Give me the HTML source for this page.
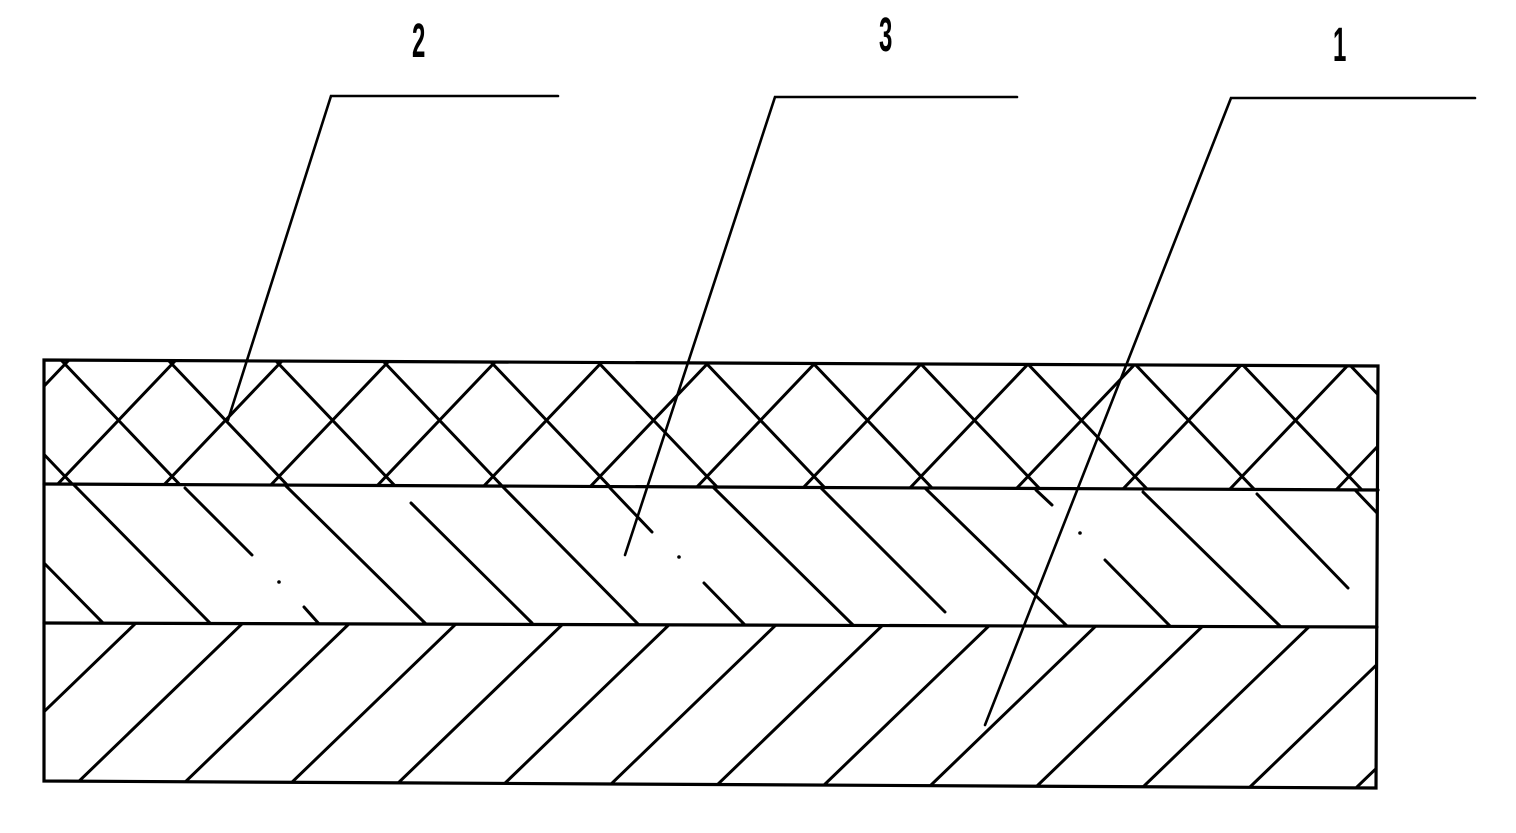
<!DOCTYPE html>
<html><head><meta charset="utf-8"><style>html,body{margin:0;padding:0;background:#fff}svg{display:block}</style></head>
<body>
<svg width="1516" height="833" viewBox="0 0 1516 833" xmlns="http://www.w3.org/2000/svg">
<defs>
<clipPath id="c1"><polygon points="44,360 1378,366 1378,490 44,484"/></clipPath>
<clipPath id="c2"><polygon points="44,484 1378,490 1377,627 44,623"/></clipPath>
<clipPath id="c3"><polygon points="44,623 1377,627 1376,788 44,781"/></clipPath>
<g id="bs"><line x1="-23" y1="340" x2="139" y2="510"/></g>
<g id="fs"><line x1="23" y1="340" x2="-139" y2="510"/></g>
<g id="bl"><line x1="0" y1="787" x2="172" y2="621"/></g>
</defs>
<g stroke="#000" stroke-width="3" fill="none" stroke-linecap="round">
<g clip-path="url(#c1)">
<g transform="translate(65,0)">
<use href="#bs" x="-214"/><use href="#bs" x="-107"/><use href="#bs" x="0"/><use href="#bs" x="107"/><use href="#bs" x="214"/><use href="#bs" x="321"/><use href="#bs" x="428"/><use href="#bs" x="535"/><use href="#bs" x="642"/><use href="#bs" x="749"/><use href="#bs" x="856"/><use href="#bs" x="963"/><use href="#bs" x="1070"/><use href="#bs" x="1177"/><use href="#bs" x="1284"/><use href="#bs" x="1391"/>
<use href="#fs" x="-107"/><use href="#fs" x="0"/><use href="#fs" x="107"/><use href="#fs" x="214"/><use href="#fs" x="321"/><use href="#fs" x="428"/><use href="#fs" x="535"/><use href="#fs" x="642"/><use href="#fs" x="749"/><use href="#fs" x="856"/><use href="#fs" x="963"/><use href="#fs" x="1070"/><use href="#fs" x="1177"/><use href="#fs" x="1284"/><use href="#fs" x="1391"/><use href="#fs" x="1498"/>
</g>
</g>
<g clip-path="url(#c2)">
<line x1="43" y1="562" x2="105" y2="625"/>
<line x1="73" y1="484" x2="212" y2="625"/>
<line x1="185" y1="488" x2="252" y2="555"/>
<line x1="304" y1="607" x2="320" y2="625"/>
<line x1="286" y1="486" x2="427" y2="625"/>
<line x1="411" y1="503" x2="532" y2="623"/>
<line x1="503" y1="487" x2="639" y2="625"/>
<line x1="610" y1="488" x2="652" y2="532"/>
<line x1="704" y1="583" x2="745" y2="625"/>
<line x1="713" y1="487" x2="853" y2="625"/>
<line x1="820" y1="487" x2="945" y2="612"/>
<line x1="925" y1="488" x2="1067" y2="626"/>
<line x1="1036" y1="490" x2="1052" y2="505"/>
<line x1="1105" y1="560" x2="1172" y2="628"/>
<line x1="1143" y1="492" x2="1282" y2="628"/>
<line x1="1257" y1="494" x2="1348" y2="588"/>
<line x1="1355" y1="490" x2="1378" y2="514"/>
</g>
<circle cx="279" cy="582" r="1.8" fill="#000" stroke="none"/>
<circle cx="679" cy="557" r="1.8" fill="#000" stroke="none"/>
<circle cx="1080" cy="533" r="1.8" fill="#000" stroke="none"/>
<g clip-path="url(#c3)">
<use href="#bl" x="-141"/><use href="#bl" x="-34"/><use href="#bl" x="73"/><use href="#bl" x="180"/><use href="#bl" x="287"/><use href="#bl" x="394"/><use href="#bl" x="501"/><use href="#bl" x="608"/><use href="#bl" x="715"/><use href="#bl" x="822"/><use href="#bl" x="929"/><use href="#bl" x="1036"/><use href="#bl" x="1143"/><use href="#bl" x="1250"/><use href="#bl" x="1357"/>
</g>
<polygon points="44,360 1378,366 1376,788 44,781" stroke-width="3.2"/>
<line x1="44" y1="484" x2="1378" y2="490" stroke-width="3.2"/>
<line x1="44" y1="623" x2="1377" y2="627" stroke-width="3.2"/>
<polyline points="558,96 331,96 228,420" stroke-width="2.6"/>
<polyline points="1017,97 775,97 625,555" stroke-width="2.6"/>
<polyline points="1475,98 1231,98 985,725" stroke-width="2.6"/>
</g>
<g font-family="'Liberation Sans', sans-serif" font-size="48" font-weight="bold" fill="#000">
<text transform="translate(412,57) scale(0.5,1)">2</text>
<text transform="translate(879,51) scale(0.5,1)">3</text>
<text transform="translate(1333,61) scale(0.5,1)">1</text>
</g>
</svg>
</body></html>
